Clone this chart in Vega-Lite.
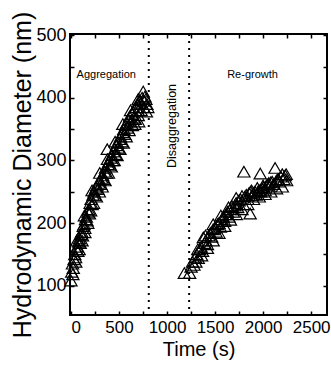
{
  "$schema": "https://vega.github.io/schema/vega-lite/v6.json",
  "autosize": "none",
  "width": 257,
  "height": 281,
  "padding": {"left": 70, "top": 34, "right": 4, "bottom": 54},
  "background": "white",
  "config": {
    "font": "Liberation Sans",
    "view": {"stroke": "black", "strokeWidth": 2},
    "axis": {"labelColor": "black", "titleColor": "black", "tickColor": "black", "domain": false, "grid": false, "labelFont": "Liberation Sans", "titleFont": "Liberation Sans", "titleFontWeight": "normal"}
  },
  "datasets": {
    "pts": [
      {"t":0,"d":108},{"t":8,"d":122},{"t":16,"d":135},{"t":24,"d":128},{"t":32,"d":142},{"t":40,"d":150},{"t":48,"d":145},{"t":56,"d":158},{"t":64,"d":162},{"t":72,"d":155},{"t":80,"d":170},{"t":88,"d":175},{"t":96,"d":168},{"t":104,"d":182},{"t":112,"d":186},{"t":120,"d":180},{"t":128,"d":195},{"t":136,"d":198},{"t":144,"d":192},{"t":152,"d":206},{"t":160,"d":210},{"t":168,"d":204},{"t":176,"d":218},{"t":184,"d":222},{"t":192,"d":215},{"t":200,"d":232},{"t":210,"d":238},{"t":220,"d":230},{"t":230,"d":245},{"t":240,"d":250},{"t":250,"d":244},{"t":260,"d":256},{"t":270,"d":260},{"t":280,"d":254},{"t":290,"d":264},{"t":300,"d":268},{"t":310,"d":262},{"t":320,"d":272},{"t":330,"d":276},{"t":340,"d":270},{"t":350,"d":282},{"t":360,"d":288},{"t":370,"d":280},{"t":378,"d":318},{"t":385,"d":294},{"t":395,"d":298},{"t":405,"d":292},{"t":415,"d":304},{"t":425,"d":308},{"t":435,"d":300},{"t":445,"d":314},{"t":455,"d":318},{"t":465,"d":310},{"t":475,"d":324},{"t":485,"d":328},{"t":495,"d":320},{"t":505,"d":334},{"t":515,"d":338},{"t":530,"d":330},{"t":540,"d":345},{"t":550,"d":350},{"t":560,"d":342},{"t":570,"d":356},{"t":580,"d":360},{"t":590,"d":352},{"t":600,"d":365},{"t":610,"d":370},{"t":620,"d":362},{"t":635,"d":374},{"t":645,"d":378},{"t":655,"d":368},{"t":665,"d":358},{"t":680,"d":385},{"t":690,"d":390},{"t":700,"d":380},{"t":705,"d":362},{"t":715,"d":396},{"t":725,"d":392},{"t":740,"d":400},{"t":752,"d":410},{"t":760,"d":395},{"t":770,"d":402},{"t":780,"d":398},{"t":790,"d":390},{"t":800,"d":385},
      {"t":20,"d":118},{"t":50,"d":138},{"t":85,"d":158},{"t":115,"d":172},{"t":145,"d":185},{"t":175,"d":200},{"t":205,"d":220},{"t":235,"d":232},{"t":265,"d":242},{"t":295,"d":250},{"t":325,"d":258},{"t":355,"d":268},{"t":390,"d":280},{"t":420,"d":290},{"t":450,"d":300},{"t":480,"d":308},{"t":510,"d":318},{"t":545,"d":328},{"t":575,"d":338},{"t":605,"d":348},{"t":640,"d":356},{"t":670,"d":366},{"t":700,"d":372},{"t":730,"d":380},{"t":760,"d":385},{"t":785,"d":378},
      {"t":60,"d":172},{"t":140,"d":212},{"t":220,"d":252},{"t":300,"d":280},{"t":380,"d":302},{"t":460,"d":330},{"t":540,"d":358},{"t":620,"d":380},{"t":700,"d":398},
      {"t":1180,"d":120},{"t":1235,"d":120},{"t":1250,"d":130},{"t":1265,"d":138},{"t":1280,"d":133},{"t":1295,"d":145},{"t":1310,"d":150},{"t":1325,"d":144},{"t":1340,"d":158},{"t":1355,"d":162},{"t":1370,"d":155},{"t":1378,"d":177},{"t":1390,"d":168},{"t":1405,"d":172},{"t":1420,"d":166},{"t":1435,"d":180},{"t":1450,"d":184},{"t":1465,"d":178},{"t":1480,"d":190},{"t":1495,"d":192},{"t":1510,"d":186},{"t":1525,"d":198},{"t":1540,"d":200},{"t":1555,"d":194},{"t":1570,"d":206},{"t":1585,"d":210},{"t":1600,"d":203},{"t":1615,"d":214},{"t":1630,"d":218},{"t":1645,"d":210},{"t":1660,"d":222},{"t":1675,"d":227},{"t":1690,"d":218},{"t":1705,"d":228},{"t":1720,"d":232},{"t":1735,"d":225},{"t":1750,"d":236},{"t":1765,"d":238},{"t":1780,"d":243},{"t":1795,"d":230},{"t":1800,"d":282},{"t":1810,"d":242},{"t":1825,"d":245},{"t":1840,"d":238},{"t":1855,"d":248},{"t":1865,"d":215},{"t":1870,"d":250},{"t":1885,"d":244},{"t":1900,"d":248},{"t":1915,"d":250},{"t":1930,"d":245},{"t":1945,"d":250},{"t":1960,"d":252},{"t":1970,"d":279},{"t":1975,"d":250},{"t":1990,"d":255},{"t":2005,"d":257},{"t":2020,"d":252},{"t":2035,"d":260},{"t":2050,"d":262},{"t":2065,"d":258},{"t":2080,"d":265},{"t":2095,"d":266},{"t":2110,"d":262},{"t":2125,"d":288},{"t":2140,"d":268},{"t":2155,"d":270},{"t":2170,"d":266},{"t":2185,"d":274},{"t":2200,"d":278},{"t":2215,"d":270},{"t":2230,"d":276},{"t":2245,"d":268},
      {"t":1300,"d":138},{"t":1360,"d":148},{"t":1420,"d":160},{"t":1480,"d":172},{"t":1540,"d":184},{"t":1600,"d":195},{"t":1660,"d":205},{"t":1720,"d":214},{"t":1780,"d":222},{"t":1840,"d":230},{"t":1900,"d":238},{"t":1960,"d":242},{"t":2020,"d":246},{"t":2080,"d":250},{"t":2140,"d":255},{"t":2200,"d":258},
      {"t":1320,"d":158},{"t":1400,"d":180},{"t":1480,"d":198},{"t":1560,"d":212},{"t":1640,"d":225},{"t":1720,"d":240},{"t":1880,"d":252},{"t":1940,"d":256},{"t":2000,"d":260},{"t":2060,"d":264},{"t":2160,"d":270},{"t":2240,"d":278}
    ],
    "dividers": [{"t": 810}, {"t": 1230}],
    "labels": [{"t": 367, "d": 436, "label": "Aggregation"}, {"t": 1890, "d": 436, "label": "Re-growth"}],
    "vlabel": [{"t": 1052, "d": 355, "label": "Disaggregation"}]
  },
  "layer": [
    {
      "data": {"name": "pts"},
      "mark": {"type": "point", "shape": "triangle-up", "filled": false, "stroke": "black", "strokeWidth": 1.2, "size": 150, "opacity": 1},
      "encoding": {
        "x": {"field": "t", "type": "quantitative", "scale": {"domain": [-10, 2665], "nice": false, "zero": false},
          "axis": {"orient": "bottom", "title": "Time (s)", "format": "d", "values": [0,250,500,750,1000,1250,1500,1750,2000,2250,2500], "labelExpr": "datum.value % 500 == 0 ? datum.label : ''", "tickSize": -4, "tickWidth": 1.5, "labelFontSize": 17, "labelPadding": 8, "titleFontSize": 20, "titlePadding": 4}},
        "y": {"field": "d", "type": "quantitative", "scale": {"domain": [53, 502], "nice": false, "zero": false},
          "axis": {"orient": "left", "title": "Hydrodynamic Diameter (nm)", "format": "d", "values": [100,150,200,250,300,350,400,450,500], "labelExpr": "datum.value % 100 == 0 ? datum.label : ''", "tickSize": -4, "tickWidth": 1.5, "labelFontSize": 18, "labelPadding": 8, "titleFontSize": 25, "titlePadding": 0}}
      }
    },
    {
      "data": {"name": "dividers"},
      "mark": {"type": "rule", "stroke": "black", "strokeWidth": 2, "strokeDash": [2, 5]},
      "encoding": {
        "x": {"field": "t", "type": "quantitative",
          "axis": {"orient": "top", "title": null, "labels": false, "values": [0,250,500,750,1000,1250,1500,1750,2000,2250,2500], "tickSize": -4, "tickWidth": 1.5}}
      }
    },
    {
      "data": {"name": "labels"},
      "mark": {"type": "text", "fontSize": 11, "color": "black", "align": "center", "baseline": "middle"},
      "encoding": {
        "x": {"field": "t", "type": "quantitative", "axis": null},
        "y": {"field": "d", "type": "quantitative",
          "axis": {"orient": "right", "title": null, "labels": false, "values": [100,150,200,250,300,350,400,450,500], "tickSize": -4, "tickWidth": 1.5}},
        "text": {"field": "label"}
      }
    },
    {
      "data": {"name": "vlabel"},
      "mark": {"type": "text", "fontSize": 12.5, "color": "black", "align": "center", "baseline": "middle", "angle": 270},
      "encoding": {
        "x": {"field": "t", "type": "quantitative", "axis": null},
        "y": {"field": "d", "type": "quantitative", "axis": null},
        "text": {"field": "label"}
      }
    }
  ],
  "resolve": {"axis": {"x": "independent", "y": "independent"}}
}
